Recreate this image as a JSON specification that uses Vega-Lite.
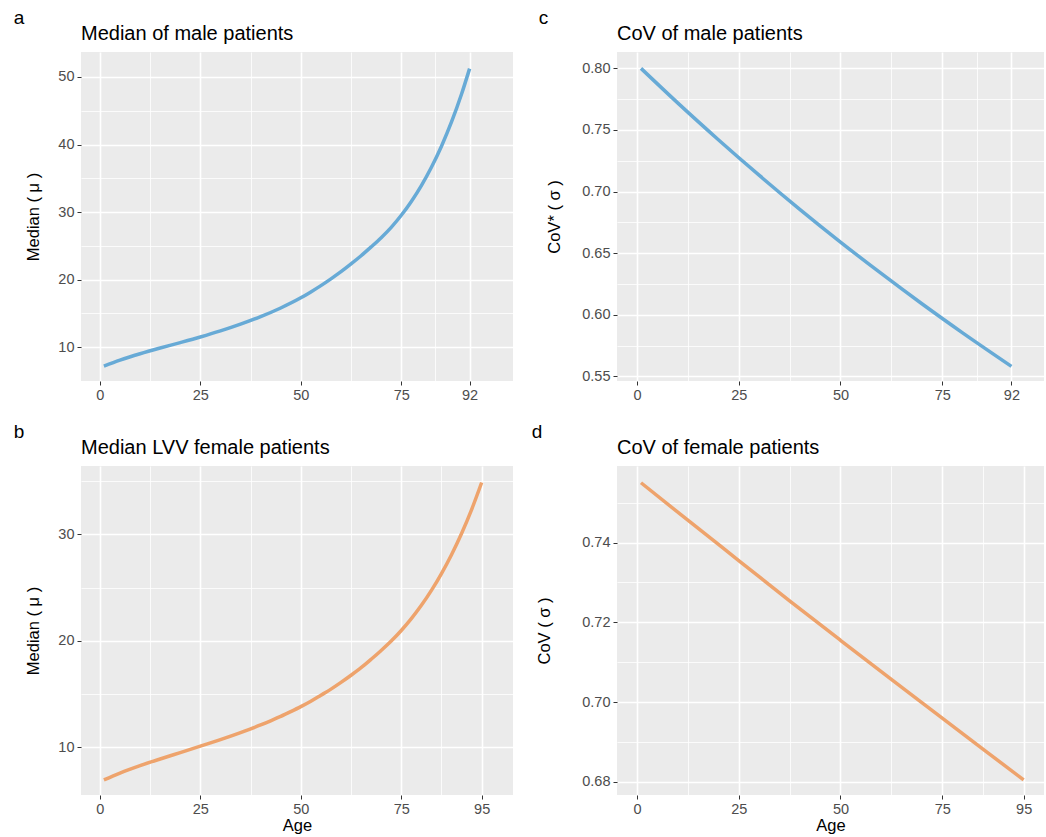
{
  "$schema": "https://vega.github.io/schema/vega-lite/v6.json",
  "background": "white",
  "padding": {"left": 13, "top": 9, "right": 0, "bottom": 0},
  "autosize": {"type": "pad"},
  "config": {
    "font": "Liberation Sans",
    "view": {"fill": "#EBEBEB", "stroke": null},
    "axis": {
      "domain": false,
      "tickColor": "#333333",
      "tickSize": 4,
      "tickWidth": 1,
      "labelColor": "#4D4D4D",
      "labelFontSize": 14.5,
      "labelPadding": 3,
      "labelOverlap": false,
      "titleFontSize": 16.5,
      "titleFontWeight": "normal",
      "titleColor": "#000000",
      "gridColor": "#FFFFFF"
    },
    "title": {"fontWeight": "normal", "color": "#000000", "font": "Liberation Sans"}
  },
  "datasets": {
    "male_median": [
      {"age": 1, "value": 7.2}, {"age": 5, "value": 8.08}, {"age": 10, "value": 9.03}, {"age": 15, "value": 9.88},
      {"age": 20, "value": 10.68}, {"age": 25, "value": 11.51}, {"age": 30, "value": 12.41}, {"age": 35, "value": 13.41},
      {"age": 40, "value": 14.53}, {"age": 45, "value": 15.81}, {"age": 50, "value": 17.31}, {"age": 52.5, "value": 18.19},
      {"age": 55, "value": 19.12}, {"age": 57.5, "value": 20.12}, {"age": 60, "value": 21.18}, {"age": 62.5, "value": 22.33},
      {"age": 65, "value": 23.54}, {"age": 67.5, "value": 24.85}, {"age": 70, "value": 26.22}, {"age": 72.5, "value": 27.75},
      {"age": 75, "value": 29.53}, {"age": 77.5, "value": 31.58}, {"age": 80, "value": 33.93}, {"age": 82.5, "value": 36.64},
      {"age": 85, "value": 39.76}, {"age": 87.5, "value": 43.34}, {"age": 90, "value": 47.48}, {"age": 92, "value": 51.24}
    ],
    "female_median": [
      {"age": 1, "value": 6.95}, {"age": 5, "value": 7.59}, {"age": 10, "value": 8.29}, {"age": 15, "value": 8.92},
      {"age": 20, "value": 9.52}, {"age": 25, "value": 10.12}, {"age": 30, "value": 10.74}, {"age": 35, "value": 11.4},
      {"age": 40, "value": 12.11}, {"age": 42.5, "value": 12.5}, {"age": 45, "value": 12.91}, {"age": 47.5, "value": 13.36},
      {"age": 50, "value": 13.83}, {"age": 52.5, "value": 14.34}, {"age": 55, "value": 14.9}, {"age": 57.5, "value": 15.47},
      {"age": 60, "value": 16.1}, {"age": 62.5, "value": 16.77}, {"age": 65, "value": 17.48}, {"age": 67.5, "value": 18.27},
      {"age": 70, "value": 19.1}, {"age": 72.5, "value": 19.98}, {"age": 75, "value": 20.97}, {"age": 77.5, "value": 22.08},
      {"age": 80, "value": 23.33}, {"age": 82.5, "value": 24.73}, {"age": 85, "value": 26.31}, {"age": 87.5, "value": 28.08},
      {"age": 90, "value": 30.07}, {"age": 92.5, "value": 32.31}, {"age": 95, "value": 34.85}
    ],
    "male_cov": [
      {"age": 1, "value": 0.8}, {"age": 10, "value": 0.772}, {"age": 20, "value": 0.7421}, {"age": 30, "value": 0.7133},
      {"age": 40, "value": 0.6856}, {"age": 50, "value": 0.659}, {"age": 60, "value": 0.6335}, {"age": 70, "value": 0.6089},
      {"age": 80, "value": 0.5853}, {"age": 92, "value": 0.5581}
    ],
    "female_cov": [
      {"age": 1, "value": 0.755}, {"age": 12.5, "value": 0.7456}, {"age": 25, "value": 0.7355}, {"age": 37.5, "value": 0.7254},
      {"age": 50, "value": 0.7155}, {"age": 62.5, "value": 0.7057}, {"age": 75, "value": 0.696}, {"age": 85, "value": 0.6882},
      {"age": 95, "value": 0.6805}
    ]
  },
  "spacing": 21,
  "vconcat": [
    {
      "spacing": 25,
      "hconcat": [
        {
          "title": {"text": "a", "anchor": "start", "frame": "bounds", "fontSize": 19, "offset": -4, "dx": -12},
          "vconcat": [
            {
              "title": {"text": "Median of male patients", "anchor": "start", "frame": "group", "fontSize": 20, "offset": 8},
              "width": 432,
              "height": 329,
              "data": {"name": "male_median"},
              "mark": {"type": "line", "color": "#67AAD6", "strokeWidth": 3.5, "interpolate": "monotone"},
              "encoding": {
                "x": {
                  "field": "age", "type": "quantitative",
                  "scale": {"domain": [-4.7, 102.8], "nice": false, "zero": false},
                  "axis": {
                    "title": null, "format": "d",
                    "values": [0, 12.5, 25, 37.5, 50, 62.5, 75, 83.5, 92],
                    "labelExpr": "(datum.value % 25 === 0 || datum.value === 92) ? datum.label : ''",
                    "tickOpacity": {"condition": {"test": "datum.value % 25 === 0 || datum.value === 92", "value": 1}, "value": 0},
                    "gridWidth": {"condition": {"test": "datum.value % 25 === 0 || datum.value === 92", "value": 1.6}, "value": 0.8}
                  }
                },
                "y": {
                  "field": "value", "type": "quantitative",
                  "scale": {"domain": [5.0, 53.7], "nice": false, "zero": false},
                  "axis": {
                    "title": "Median ( μ )", "titlePadding": 16, "format": "d",
                    "values": [10, 15, 20, 25, 30, 35, 40, 45, 50],
                    "labelExpr": "(datum.value % 10 === 0) ? datum.label : ''",
                    "tickOpacity": {"condition": {"test": "datum.value % 10 === 0", "value": 1}, "value": 0},
                    "gridWidth": {"condition": {"test": "datum.value % 10 === 0", "value": 1.6}, "value": 0.8}
                  }
                }
              }
            }
          ]
        },
        {
          "title": {"text": "c", "anchor": "start", "frame": "bounds", "fontSize": 19, "offset": -4, "dx": -8},
          "vconcat": [
            {
              "title": {"text": "CoV of male patients", "anchor": "start", "frame": "group", "fontSize": 20, "offset": 8},
              "width": 427,
              "height": 329,
              "data": {"name": "male_cov"},
              "mark": {"type": "line", "color": "#67AAD6", "strokeWidth": 3.5, "interpolate": "monotone"},
              "encoding": {
                "x": {
                  "field": "age", "type": "quantitative",
                  "scale": {"domain": [-4.9, 100.0], "nice": false, "zero": false},
                  "axis": {
                    "title": null, "format": "d",
                    "values": [0, 12.5, 25, 37.5, 50, 62.5, 75, 83.5, 92],
                    "labelExpr": "(datum.value % 25 === 0 || datum.value === 92) ? datum.label : ''",
                    "tickOpacity": {"condition": {"test": "datum.value % 25 === 0 || datum.value === 92", "value": 1}, "value": 0},
                    "gridWidth": {"condition": {"test": "datum.value % 25 === 0 || datum.value === 92", "value": 1.6}, "value": 0.8}
                  }
                },
                "y": {
                  "field": "value", "type": "quantitative",
                  "scale": {"domain": [0.5462, 0.8133], "nice": false, "zero": false},
                  "axis": {
                    "title": "CoV* ( σ )", "titlePadding": 19, "format": ".2f",
                    "values": [0.55, 0.575, 0.6, 0.625, 0.65, 0.675, 0.7, 0.725, 0.75, 0.775, 0.8],
                    "labelExpr": "(datum.value === 0.55 || datum.value === 0.6 || datum.value === 0.65 || datum.value === 0.7 || datum.value === 0.75 || datum.value === 0.8) ? datum.label : ''",
                    "tickOpacity": {"condition": {"test": "datum.value === 0.55 || datum.value === 0.6 || datum.value === 0.65 || datum.value === 0.7 || datum.value === 0.75 || datum.value === 0.8", "value": 1}, "value": 0},
                    "gridWidth": {"condition": {"test": "datum.value === 0.55 || datum.value === 0.6 || datum.value === 0.65 || datum.value === 0.7 || datum.value === 0.75 || datum.value === 0.8", "value": 1.6}, "value": 0.8}
                  }
                }
              }
            }
          ]
        }
      ]
    },
    {
      "spacing": 18,
      "hconcat": [
        {
          "title": {"text": "b", "anchor": "start", "frame": "bounds", "fontSize": 19, "offset": -4, "dx": -12},
          "vconcat": [
            {
              "title": {"text": "Median LVV female patients", "anchor": "start", "frame": "group", "fontSize": 20, "offset": 8},
              "width": 432,
              "height": 329,
              "data": {"name": "female_median"},
              "mark": {"type": "line", "color": "#EEA36C", "strokeWidth": 3.5, "interpolate": "monotone"},
              "encoding": {
                "x": {
                  "field": "age", "type": "quantitative",
                  "scale": {"domain": [-4.7, 102.8], "nice": false, "zero": false},
                  "axis": {
                    "title": "Age", "titlePadding": 2, "format": "d",
                    "values": [0, 12.5, 25, 37.5, 50, 62.5, 75, 85, 95],
                    "labelExpr": "(datum.value % 25 === 0 || datum.value === 95) ? datum.label : ''",
                    "tickOpacity": {"condition": {"test": "datum.value % 25 === 0 || datum.value === 95", "value": 1}, "value": 0},
                    "gridWidth": {"condition": {"test": "datum.value % 25 === 0 || datum.value === 95", "value": 1.6}, "value": 0.8}
                  }
                },
                "y": {
                  "field": "value", "type": "quantitative",
                  "scale": {"domain": [5.54, 36.4], "nice": false, "zero": false},
                  "axis": {
                    "title": "Median ( μ )", "titlePadding": 16, "format": "d",
                    "values": [10, 15, 20, 25, 30, 35],
                    "labelExpr": "(datum.value % 10 === 0) ? datum.label : ''",
                    "tickOpacity": {"condition": {"test": "datum.value % 10 === 0", "value": 1}, "value": 0},
                    "gridWidth": {"condition": {"test": "datum.value % 10 === 0", "value": 1.6}, "value": 0.8}
                  }
                }
              }
            }
          ]
        },
        {
          "title": {"text": "d", "anchor": "start", "frame": "bounds", "fontSize": 19, "offset": -4, "dx": -5},
          "vconcat": [
            {
              "title": {"text": "CoV of female patients", "anchor": "start", "frame": "group", "fontSize": 20, "offset": 8},
              "width": 427,
              "height": 329,
              "data": {"name": "female_cov"},
              "mark": {"type": "line", "color": "#EEA36C", "strokeWidth": 3.5, "interpolate": "monotone"},
              "encoding": {
                "x": {
                  "field": "age", "type": "quantitative",
                  "scale": {"domain": [-4.9, 100.0], "nice": false, "zero": false},
                  "axis": {
                    "title": "Age", "titlePadding": 2, "format": "d",
                    "values": [0, 12.5, 25, 37.5, 50, 62.5, 75, 85, 95],
                    "labelExpr": "(datum.value % 25 === 0 || datum.value === 95) ? datum.label : ''",
                    "tickOpacity": {"condition": {"test": "datum.value % 25 === 0 || datum.value === 95", "value": 1}, "value": 0},
                    "gridWidth": {"condition": {"test": "datum.value % 25 === 0 || datum.value === 95", "value": 1.6}, "value": 0.8}
                  }
                },
                "y": {
                  "field": "value", "type": "quantitative",
                  "scale": {"domain": [0.6767, 0.7592], "nice": false, "zero": false},
                  "axis": {
                    "title": "CoV ( σ )", "titlePadding": 29, "format": ".2f",
                    "values": [0.68, 0.69, 0.7, 0.71, 0.72, 0.73, 0.74, 0.75],
                    "labelExpr": "(datum.value === 0.68 || datum.value === 0.7 || datum.value === 0.72 || datum.value === 0.74) ? datum.label : ''",
                    "tickOpacity": {"condition": {"test": "datum.value === 0.68 || datum.value === 0.7 || datum.value === 0.72 || datum.value === 0.74", "value": 1}, "value": 0},
                    "gridWidth": {"condition": {"test": "datum.value === 0.68 || datum.value === 0.7 || datum.value === 0.72 || datum.value === 0.74", "value": 1.6}, "value": 0.8}
                  }
                }
              }
            }
          ]
        }
      ]
    }
  ]
}
